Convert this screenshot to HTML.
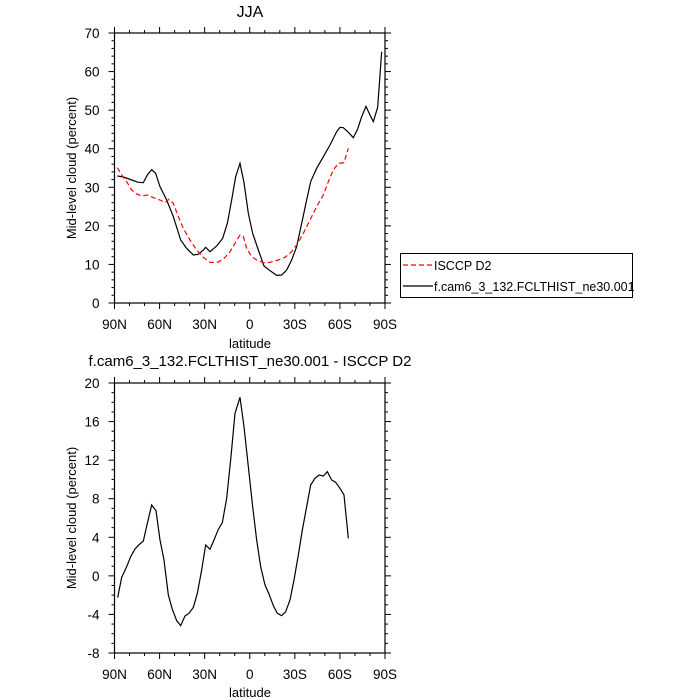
<!DOCTYPE html>
<html><head><meta charset="utf-8"><style>
html,body{margin:0;padding:0;background:#fff;width:700px;height:700px;overflow:hidden}
svg text{font-family:"Liberation Sans",sans-serif;fill:#000}
</style></head><body>
<svg id="s" width="700" height="700" xmlns="http://www.w3.org/2000/svg">
<text x="250" y="17" font-size="16" text-anchor="middle">JJA</text>
<text x="250" y="366" font-size="15" text-anchor="middle">f.cam6_3_132.FCLTHIST_ne30.001 - ISCCP D2</text>
<text x="250" y="348" font-size="13" text-anchor="middle">latitude</text>
<text x="250" y="697" font-size="13" text-anchor="middle">latitude</text>
<text transform="translate(76,168) rotate(-90)" font-size="13" text-anchor="middle">Mid-level cloud (percent)</text>
<text transform="translate(76,518) rotate(-90)" font-size="13" text-anchor="middle">Mid-level cloud (percent)</text>
<g id="ax"></g>
<g transform="translate(60,20) scale(0.33333)">
<polyline fill="none" stroke="#000" stroke-width="1.2" vector-effect="non-scaling-stroke" points="172,468 190,471 215,480 235,487 250,488 262,465 275,449 287,460 300,500 320,540 340,590 362,660 380,685 400,705 415,703 430,690 437,682 450,695 470,678 488,655 502,610 515,540 527,470 540,430 552,488 565,580 578,640 595,690 612,738 630,752 650,766 665,765 680,750 695,720 710,680 725,610 740,540 752,485 770,445 790,410 810,375 830,335 840,322 850,323 865,337 880,353 893,327 905,290 918,259 930,285 940,305 953,262 965,95"/>
<polyline fill="none" stroke="#f00" stroke-width="1.2" stroke-dasharray="5,3" vector-effect="non-scaling-stroke" points="172,443 185,465 200,485 215,510 230,522 245,528 262,525 280,533 300,540 315,548 327,538 340,550 355,590 370,625 390,660 410,690 430,712 450,727 470,728 490,718 510,695 525,670 540,645 550,650 560,685 575,710 590,720 610,728 630,727 655,720 675,712 695,695 712,672 730,640 750,600 770,560 790,525 805,485 820,450 835,430 852,428 865,385"/>
</g>
<g transform="translate(60,370) scale(0.33333)">
<polyline fill="none" stroke="#000" stroke-width="1.2" vector-effect="non-scaling-stroke" points="173,683 185,622 200,590 212,560 225,537 237,524 250,513 262,460 275,405 288,422 300,510 312,570 325,675 337,718 350,752 362,767 375,738 387,730 400,712 412,670 425,600 437,525 450,538 462,510 475,478 487,458 500,385 512,270 525,130 540,82 552,170 565,290 578,410 590,510 602,590 615,645 627,672 640,707 652,730 665,737 677,725 690,690 702,630 715,555 727,480 740,410 752,345 765,325 777,315 790,318 802,305 815,330 827,337 840,355 852,375 865,505"/>
</g>
<rect x="400.5" y="253.5" width="232" height="44" fill="none" stroke="#000" stroke-width="1"/>
<line x1="403" y1="265" x2="433" y2="265" stroke="#f00" stroke-width="1.2" stroke-dasharray="5,3"/>
<line x1="403" y1="286" x2="433" y2="286" stroke="#000" stroke-width="1.2"/>
<text x="434" y="270" font-size="12.5">ISCCP D2</text>
<text x="434" y="291" font-size="12.5">f.cam6_3_132.FCLTHIST_ne30.001</text>
</svg>
<script>
var g=document.getElementById('ax'),NS='http://www.w3.org/2000/svg';
function el(n,a,t){var e=document.createElementNS(NS,n);for(var k in a)e.setAttribute(k,a[k]);if(t!==undefined)e.textContent=t;g.appendChild(e);}
function ln(x1,y1,x2,y2){el('line',{x1:x1,y1:y1,x2:x2,y2:y2,stroke:'#000','stroke-width':1});}
var L=114.5,R=385,xl=['90N','60N','30N','0','30S','60S','90S'];
function panel(T,B,ymin,ymax,maj,nmin){
 el('rect',{x:L,y:T,width:R-L,height:B-T,fill:'none',stroke:'#000','stroke-width':1.2});
 for(var i=0;i<=18;i++){var x=L+(R-L)*i/18,m=i%3==0,len=m?6:3;ln(x,T,x,T-len);ln(x,B,x,B+len);
  if(m)el('text',{x:x,y:B+26,'font-size':13.5,'text-anchor':'middle'},xl[i/3]);}
 var n=(ymax-ymin)/maj*nmin;
 for(var j=0;j<=n;j++){var v=ymin+j*maj/nmin,y=B-(B-T)*(v-ymin)/(ymax-ymin),m=j%nmin==0,len=m?6:3;ln(L,y,L-len,y);ln(R,y,R+len,y);
  if(m)el('text',{x:L-15,y:y+5,'font-size':13.5,'text-anchor':'end'},String(Math.round(v)));}
}
panel(33,303,0,70,10,5);
panel(383,653,-8,20,4,4);
</script>
</body></html>
